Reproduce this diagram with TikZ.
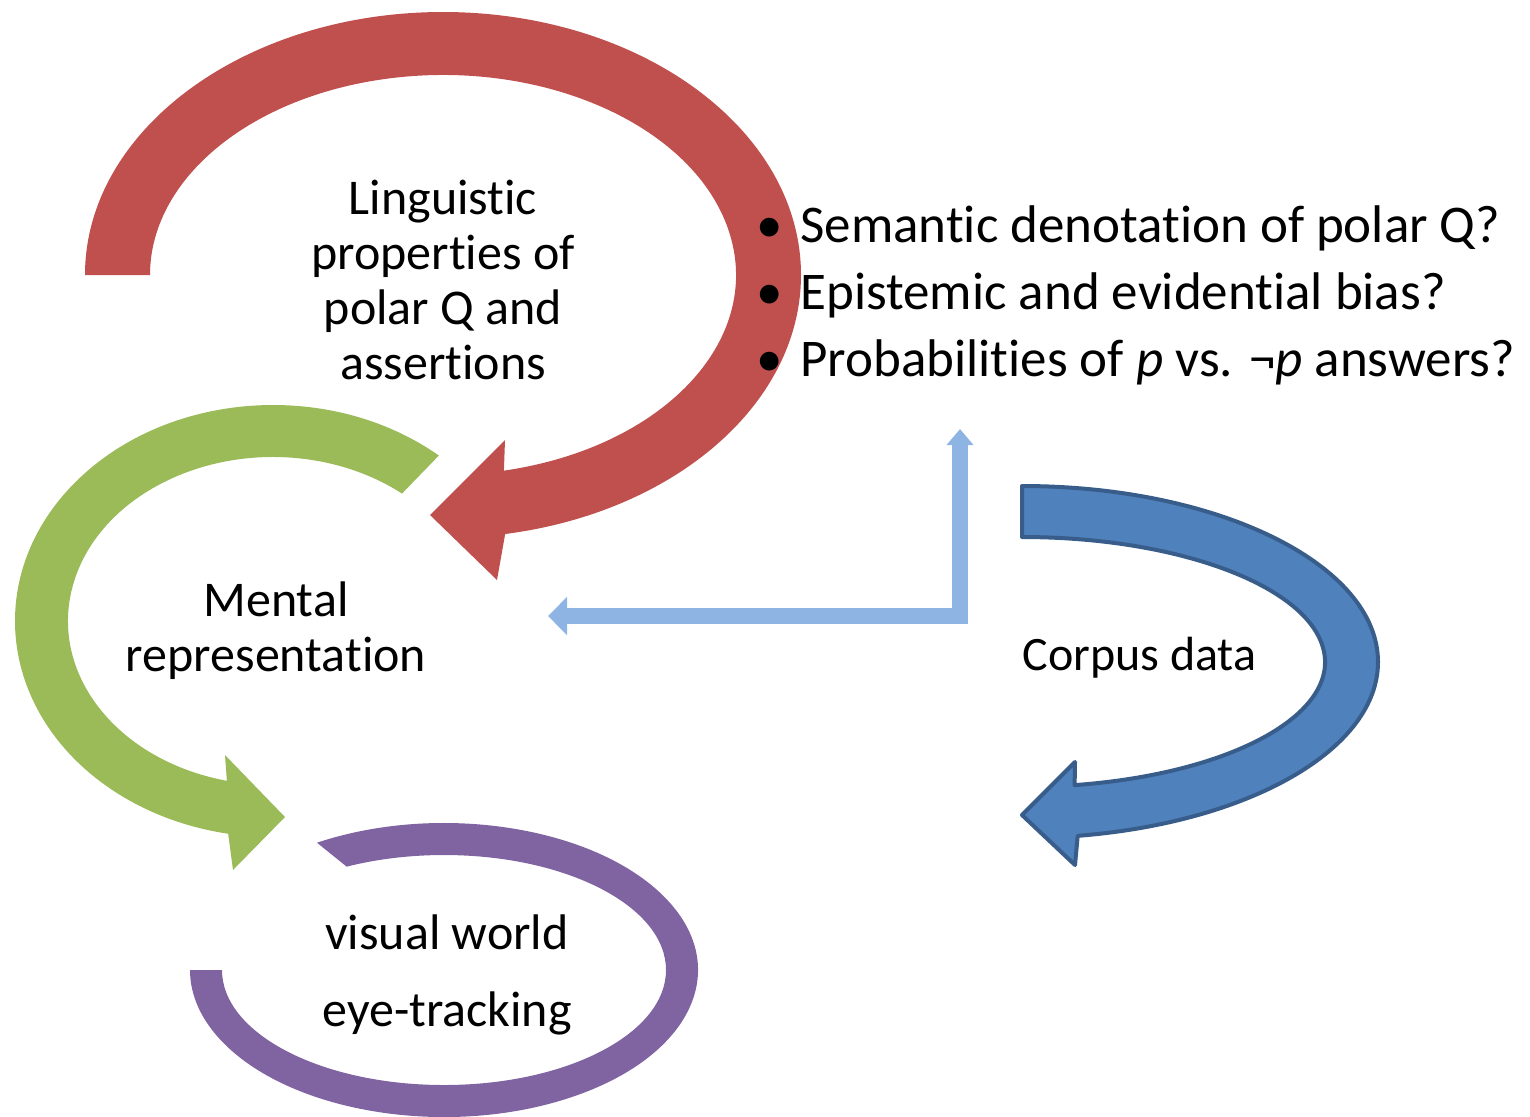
\documentclass[tikz,border=0pt]{standalone}
\usepackage{fontspec}
\setmainfont{Carlito}[RawFeature={-liga;-clig;-dlig}]
\usetikzlibrary{arrows.meta,calc}
\definecolor{lingred}{HTML}{C0504D}
\definecolor{mentalgreen}{HTML}{9BBB59}
\definecolor{eyepurple}{HTML}{8064A2}
\definecolor{corpusblue}{HTML}{4F81BD}
\definecolor{corpusedge}{HTML}{385D8A}
\definecolor{linkblue}{HTML}{8EB4E3}
\newcommand{\qbullet}{\makebox[24pt][l]{\hspace{2pt}•}}
\tikzset{
	bigtext/.style={font=\fontsize{25pt}{27.5pt}\selectfont, align=center, inner sep=0pt},
	listtext/.style={font=\fontsize{26.5pt}{33.5pt}\selectfont, align=left, inner sep=0pt},
	link/.style={draw=linkblue, line width=8pt},
}
\begin{document}
\begin{tikzpicture}[x=0.5pt, y=-0.5pt]
	\useasboundingbox (0,0) rectangle (1530,1116);
	% centres of the curved arrows
	\coordinate (rc) at (443,275);
	\coordinate (gc) at (273,621);
	\coordinate (pc) at (444,970);
	\coordinate (bc) at (1022,662);
	% corpus arrow
	\filldraw[fill=corpusblue, draw=corpusedge, line width=2pt, line join=round]
		(bc) ++(-90:356 and 176) arc[start angle=-90, end angle=81, x radius=356, y radius=176]
		-- (1075,865) -- (1022,815) -- (1075,762)
		-- ($(bc)+(80:303 and 125)$) arc[start angle=80, end angle=-90, x radius=303, y radius=125] -- cycle;
	% linguistic arrow
	\fill[lingred]
		(rc) ++(180:358 and 263) arc[start angle=180, end angle=440, x radius=358, y radius=263]
		-- (497,580) -- (430,515) -- (505,440)
		-- ($(rc)+(438:293 and 200)$) arc[start angle=438, end angle=180, x radius=293, y radius=200] -- cycle;
	% mental arrow
	\fill[mentalgreen]
		(gc) ++(-50:258 and 216) arc[start angle=-50, end angle=-260, x radius=258, y radius=216]
		-- (233,870) -- (285,817) -- (225,755)
		-- ($(gc)+(-257:205 and 164)$) arc[start angle=-257, end angle=-51, x radius=205, y radius=164] -- cycle;
	% eye-tracking ring
	\fill[eyepurple]
		(pc) ++(-120:254 and 147) arc[start angle=-120, end angle=180, x radius=254, y radius=147]
		-- ($(pc)+(180:222 and 115)$) arc[start angle=180, end angle=-116, x radius=222, y radius=115] -- cycle;
	% texts
	\node[bigtext] (ling) at (443,280) {Linguistic\\properties of\\polar Q and\\assertions};
	\node[bigtext] (mental) at (276,631) {Mental\\representation};
	\node[bigtext, font=\fontsize{25pt}{38.5pt}\selectfont] (visual) at (447,975) {visual world\\eye-tracking};
	\node[inner sep=0pt, anchor=west, font=\fontsize{24pt}{28pt}\selectfont] (corpus) at (1022,658) {Corpus data};
	\node[listtext, anchor=west] (questions) at (752,295) {\qbullet Semantic denotation of polar Q?\\
		\qbullet Epistemic and evidential bias?\\
		\qbullet Probabilities of \textit{p} vs. ¬\textit{p} answers?};
	% link between corpus and the other parts
	\coordinate (bend) at (960,616);
	\coordinate (qtip) at (960,429);
	\coordinate (mtip) at (548,616);
	\draw[link, shorten <=-4pt, -{Triangle[width=13pt,length=8pt]}] (bend) -- (qtip);
	\draw[link, shorten <=-4pt, -{Triangle[width=18.5pt,length=9.5pt]}] (bend) -- (mtip);
\end{tikzpicture}
\end{document}
